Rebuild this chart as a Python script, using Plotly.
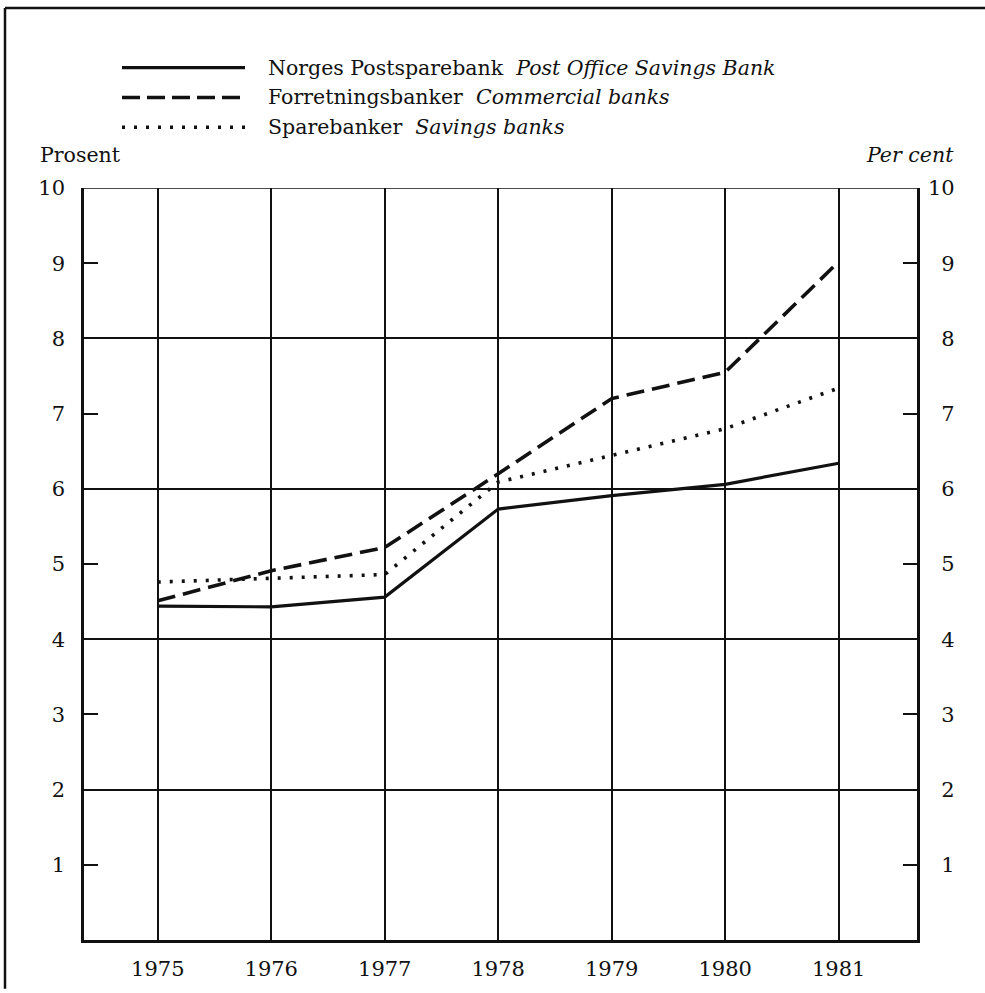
import plotly.graph_objects as go

years = [1975, 1976, 1977, 1978, 1979, 1980, 1981]
postsparebank = [4.44, 4.43, 4.56, 5.73, 5.91, 6.06, 6.34]
forretningsbanker = [4.51, 4.91, 5.22, 6.20, 7.20, 7.55, 9.02]
sparebanker = [4.76, 4.81, 4.86, 6.09, 6.44, 6.80, 7.34]

series_names = [
    "Norges Postsparebank  <i>Post Office Savings Bank</i>",
    "Forretningsbanker  <i>Commercial banks</i>",
    "Sparebanker  <i>Savings banks</i>",
]
y_ticks = [1, 2, 3, 4, 5, 6, 7, 8, 9, 10]
y_ticktext_right = ["\u2007" + str(v) if v < 10 else str(v) for v in y_ticks]

FONT = "DejaVu Serif"
INK = "#111111"

# pixel geometry helpers (plot area 84..917 x, 188..944 y)
L, R, T, B = 84, 917, 188, 944
def px(x):
    return (x - L) / (R - L)
def py(y):
    return (B - y) / (B - T)

fig = go.Figure()
styles = [
    dict(color=INK, width=3.2, dash="solid"),
    dict(color=INK, width=3.6, dash="18px,8px"),
    dict(color=INK, width=3.6, dash="3px,9px"),
]
for vals, st in zip([postsparebank, forretningsbanker, sparebanker], styles):
    fig.add_trace(go.Scatter(x=years, y=vals, mode="lines", line=st,
                             showlegend=False, hoverinfo="skip"))

# invisible trace on right axis
fig.add_trace(go.Scatter(x=[years[0]], y=[0], yaxis="y2", mode="markers",
                         marker=dict(opacity=0), showlegend=False, hoverinfo="skip"))

fig.update_layout(
    width=985, height=993,
    margin=dict(l=L, r=985 - R, t=T, b=993 - B),
    paper_bgcolor="white", plot_bgcolor="white",
    font=dict(family=FONT, size=20, color=INK),
    xaxis=dict(range=[1974.35, 1981.69], tickvals=years, ticks="",
               showgrid=True, gridcolor=INK, gridwidth=1.5,
               showline=True, linecolor=INK, linewidth=2.5,
               zeroline=False, ticklabelstandoff=8,
               tickfont=dict(family=FONT, size=21, color=INK)),
    yaxis=dict(range=[0, 10], tickvals=y_ticks, ticks="inside", ticklen=14,
               tickwidth=2, tickcolor=INK, showgrid=False, zeroline=False,
               showline=True, linecolor=INK, linewidth=2.5,
               ticklabelstandoff=12,
               minor=dict(tickvals=[2, 4, 6, 8], showgrid=True,
                          gridcolor=INK, gridwidth=1.5, ticks=""),
               tickfont=dict(family=FONT, size=21, color=INK)),
    yaxis2=dict(range=[0, 10], overlaying="y", side="right", anchor="x",
                tickvals=y_ticks, ticktext=y_ticktext_right,
                ticks="inside", ticklen=14, tickwidth=2, tickcolor=INK,
                showgrid=False, zeroline=False,
                showline=True, linecolor=INK, linewidth=2.5,
                ticklabelstandoff=4,
                tickfont=dict(family=FONT, size=21, color=INK)),
)

# top frame line of plot area
fig.add_shape(type="line", xref="x domain", yref="y", x0=0, x1=1, y0=10, y1=10,
              line=dict(color=INK, width=1.5))

# page border (left and top)
fig.add_shape(type="line", xref="paper", yref="paper", x0=px(5), x1=px(985),
              y0=py(7), y1=py(7), line=dict(color=INK, width=2.5))
fig.add_shape(type="line", xref="paper", yref="paper", x0=px(5), x1=px(5),
              y0=py(7), y1=py(993), line=dict(color=INK, width=2.5))

# legend samples and texts
leg_y = [67, 97, 127]
leg_dash = ["solid", "18px,7px", "3px,9px"]
leg_w = [3.2, 3.6, 3.6]
for name, yy, dsh, w in zip(series_names, leg_y, leg_dash, leg_w):
    fig.add_shape(type="line", xref="paper", yref="paper",
                  x0=px(122), x1=px(245), y0=py(yy), y1=py(yy),
                  line=dict(color=INK, width=w, dash=dsh))
    fig.add_annotation(xref="paper", yref="paper", x=px(266), y=py(yy),
                       xanchor="left", yanchor="middle", showarrow=False,
                       text=name, font=dict(family=FONT, size=20.5, color=INK))

fig.add_annotation(xref="paper", yref="paper", x=px(38), y=py(155),
                   xanchor="left", yanchor="middle", showarrow=False,
                   text="Prosent", font=dict(family=FONT, size=20.5, color=INK))
fig.add_annotation(xref="paper", yref="paper", x=px(956), y=py(155),
                   xanchor="right", yanchor="middle", showarrow=False,
                   text="<i>Per cent</i>", font=dict(family=FONT, size=20.5, color=INK))

fig.write_html("out.html", config={"displayModeBar": False},
               post_script="document.body.style.margin='0';")
